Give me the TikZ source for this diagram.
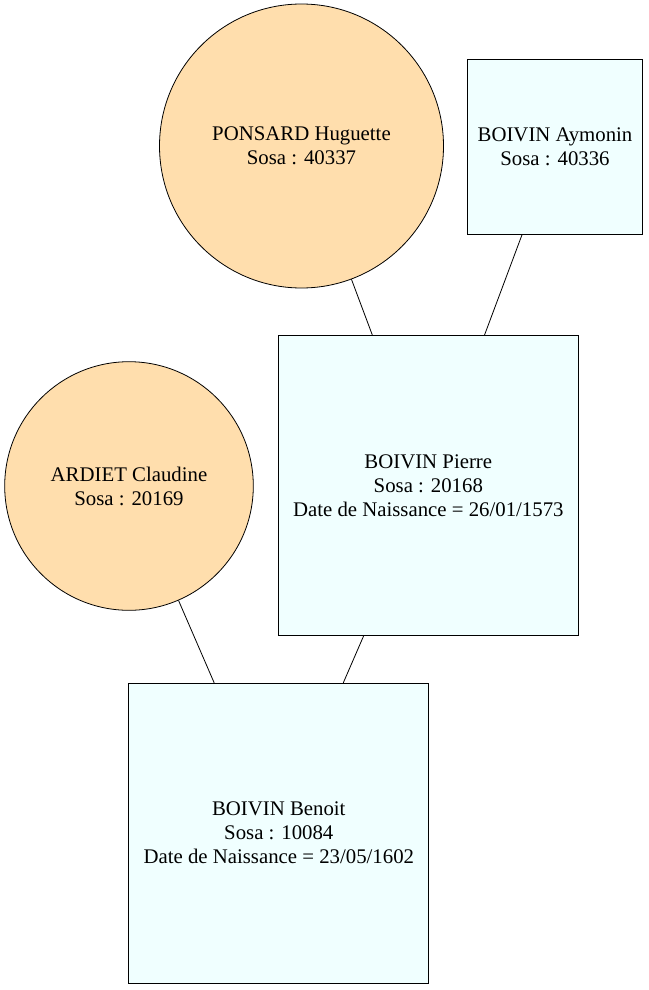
\documentclass[tikz,border=0pt]{standalone}
\usepackage{fontspec}
\setmainfont{Liberation Serif}
\definecolor{azur}{HTML}{F0FFFF}
\definecolor{navajo}{HTML}{FFDEAD}
\begin{document}
\begin{tikzpicture}[x=1pt, y=-1pt, line width=0.8pt,
    homme/.style={draw, fill=azur, rectangle, inner sep=0pt, align=center,
      font=\fontsize{20.8}{24}\selectfont},
    femme/.style={draw, fill=navajo, circle, inner sep=0pt, align=center,
      font=\fontsize{20.8}{24}\selectfont}]
    \useasboundingbox (0, 0) rectangle (648, 990);
    \node[femme, minimum size=284] (ponsard) at (301.5, 146) {PONSARD Huguette\\Sosa : 40337};
    \node[homme, minimum size=175] (aymonin) at (555, 146.5) {BOIVIN Aymonin\\Sosa : 40336};
    \node[homme, minimum size=300] (pierre) at (428.3, 485.7) {BOIVIN Pierre\\Sosa : 20168\\Date de Naissance = 26/01/1573};
    \node[femme, minimum size=248.6] (ardiet) at (129, 486) {ARDIET Claudine\\Sosa : 20169};
    \node[homme, minimum size=300] (benoit) at (278.8, 833.2) {BOIVIN Benoit\\Sosa : 10084\\Date de Naissance = 23/05/1602};
    \draw (ponsard)--(pierre);
    \draw (aymonin)--(pierre);
    \draw (ardiet)--(benoit);
    \draw (pierre)--(benoit);
  \end{tikzpicture}
\end{document}
